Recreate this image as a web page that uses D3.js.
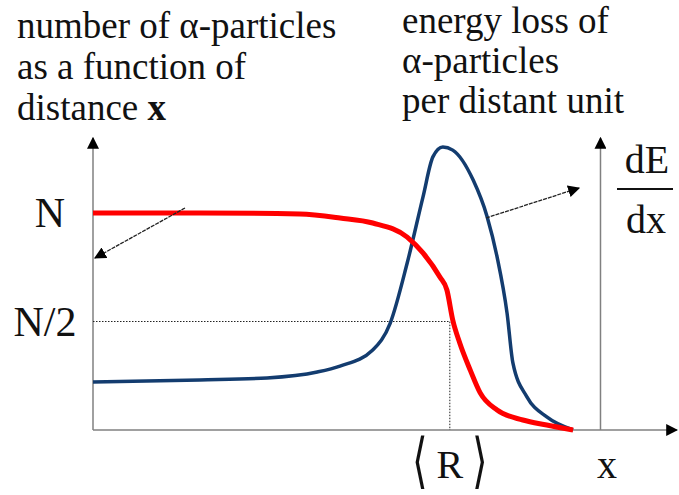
<!DOCTYPE html>
<html lang="en">
  <head>
    <meta charset="UTF-8" />
    <title>Bragg curve</title>
    <script src="https://cdn.jsdelivr.net/npm/d3@7"></script>
    <style>
      body { margin: 0; background: #fff; }
      text { font-family: "Liberation Serif", "Times New Roman", serif; fill: #111; }
    </style>
  </head>
  <body>
    <div id="container"></div>
    <script>
      // distance x in arbitrary units (0..100 across the x axis)
      const redX = [0, 18.3, 35.4, 42.3, 47.9, 53.8, 56.5, 59.4, 60.6, 61.6, 62.8, 64.6, 66.3, 69.2, 73.6, 77.7, 82.2]
      // number of particles, as a fraction of N
      const redN = [1, 1, 0.995, 0.977, 0.954, 0.889, 0.816, 0.705, 0.645, 0.507, 0.401, 0.276, 0.171, 0.092, 0.046, 0.023, 0]
      const blueX = [0, 18.3, 29.8, 38.4, 42.3, 47.9, 50.9, 53.8, 56.5, 58.2, 59.9, 61.6, 65.1, 67.5, 69.2, 70.9, 71.9, 74.3, 77.7, 82.2]
      // dE/dx relative to its peak
      const blueE = [0.170, 0.177, 0.184, 0.205, 0.226, 0.283, 0.378, 0.590, 0.823, 0.965, 1.0, 0.989, 0.883, 0.753, 0.611, 0.413, 0.237, 0.117, 0.046, 0]
      const meanRange = 61.1
      const halfN = 0.5
      const yTicks = [{ v: 1, label: 'N' }, { v: 0.5, label: 'N/2' }]
      const rightAxisX = 86.9

      const width = 679
      const height = 495

      const x = d3.scaleLinear().domain([0, 100]).range([93, 677])
      const yN = d3.scaleLinear().domain([0, 1]).range([430, 213])
      const yE = d3.scaleLinear().domain([0, 1]).range([430, 147])

      const svg = d3.create('svg')
        .attr('width', width)
        .attr('height', height)
        .attr('viewBox', [0, 0, width, height])

      const defs = svg.append('defs')
      defs.append('marker')
        .attr('id', 'tri')
        .attr('viewBox', '0 0 10 10')
        .attr('refX', 9).attr('refY', 5)
        .attr('markerWidth', 12).attr('markerHeight', 12)
        .attr('markerUnits', 'userSpaceOnUse')
        .attr('orient', 'auto')
        .append('path').attr('d', 'M0,0L10,5L0,10Z').attr('fill', '#000')

      // axes
      const axisColor = '#808080'
      svg.append('line')
        .attr('x1', x(0)).attr('y1', yN(0)).attr('x2', x(0)).attr('y2', 138)
        .attr('stroke', axisColor).attr('stroke-width', 1.5).attr('marker-end', 'url(#tri)')
      svg.append('line')
        .attr('x1', x(rightAxisX)).attr('y1', yN(0)).attr('x2', x(rightAxisX)).attr('y2', 138)
        .attr('stroke', axisColor).attr('stroke-width', 1.5).attr('marker-end', 'url(#tri)')
      svg.append('line')
        .attr('x1', x(0)).attr('y1', yN(0)).attr('x2', x(100)).attr('y2', yN(0))
        .attr('stroke', axisColor).attr('stroke-width', 1.5).attr('marker-end', 'url(#tri)')

      // N/2 guide lines
      svg.append('path')
        .attr('d', `M${x(0)},${yN(halfN)}H${x(meanRange)}V${yN(0)}`)
        .attr('fill', 'none').attr('stroke', '#222').attr('stroke-width', 1)
        .attr('stroke-dasharray', '1.5,1.5')

      // curves
      const line = d3.line().curve(d3.curveMonotoneX)
      svg.append('path')
        .attr('d', line(blueX.map((d, i) => [x(d), yE(blueE[i])])))
        .attr('fill', 'none').attr('stroke', '#133c6f').attr('stroke-width', 3.5)
      svg.append('path')
        .attr('d', line(redX.map((d, i) => [x(d), yN(redN[i])])))
        .attr('fill', 'none').attr('stroke', '#ff0000').attr('stroke-width', 5)

      // pointer arrows
      svg.append('line')
        .attr('x1', 185).attr('y1', 208).attr('x2', 95).attr('y2', 258)
        .attr('stroke', '#222').attr('stroke-width', 1.3).attr('stroke-dasharray', '4,1')
        .attr('marker-end', 'url(#tri)')
      svg.append('line')
        .attr('x1', 486).attr('y1', 218).attr('x2', 579).attr('y2', 188)
        .attr('stroke', '#222').attr('stroke-width', 1.3).attr('stroke-dasharray', '4,1')
        .attr('marker-end', 'url(#tri)')

      // y tick labels
      svg.append('g').selectAll('text')
        .data(yTicks)
        .join('text')
        .attr('x', d => d.label === 'N' ? 50 : 45)
        .attr('y', d => yN(d.v) + 14)
        .attr('text-anchor', 'middle')
        .attr('font-size', 42)
        .text(d => d.label)

      // dE/dx label
      svg.append('text').attr('x', 647).attr('y', 173).attr('text-anchor', 'middle')
        .attr('font-size', 40).text('dE')
      svg.append('line').attr('x1', 617).attr('x2', 673).attr('y1', 189).attr('y2', 189)
        .attr('stroke', '#111').attr('stroke-width', 2)
      svg.append('text').attr('x', 646).attr('y', 233).attr('text-anchor', 'middle')
        .attr('font-size', 40).text('dx')

      // x labels: <R> with tall angle brackets
      const rx = x(meanRange)
      svg.append('text').attr('x', rx).attr('y', 478).attr('text-anchor', 'middle')
        .attr('font-size', 40).text('R')
      svg.append('text').attr('transform', `translate(${rx - 30},481) scale(1,1.5)`)
        .attr('text-anchor', 'middle').attr('font-size', 40).text('\u27E8')
      svg.append('text').attr('transform', `translate(${rx + 30},481) scale(1,1.5)`)
        .attr('text-anchor', 'middle').attr('font-size', 40).text('\u27E9')
      svg.append('text').attr('x', 607).attr('y', 478).attr('text-anchor', 'middle')
        .attr('font-size', 40).text('x')

      // titles
      const left = svg.append('text').attr('font-size', 37)
      left.append('tspan').attr('x', 17).attr('y', 38).text('number of \u03B1-particles')
      left.append('tspan').attr('x', 17).attr('y', 79).text('as a function of')
      left.append('tspan').attr('x', 17).attr('y', 120).text('distance ')
      left.append('tspan').attr('font-weight', 'bold').text('x')
      const right = svg.append('text').attr('font-size', 37)
      right.append('tspan').attr('x', 402).attr('y', 33).text('energy loss of')
      right.append('tspan').attr('x', 402).attr('y', 73).text('\u03B1-particles')
      right.append('tspan').attr('x', 402).attr('y', 113).text('per distant unit')

      document.getElementById('container').append(svg.node())
    </script>
  </body>
</html>
